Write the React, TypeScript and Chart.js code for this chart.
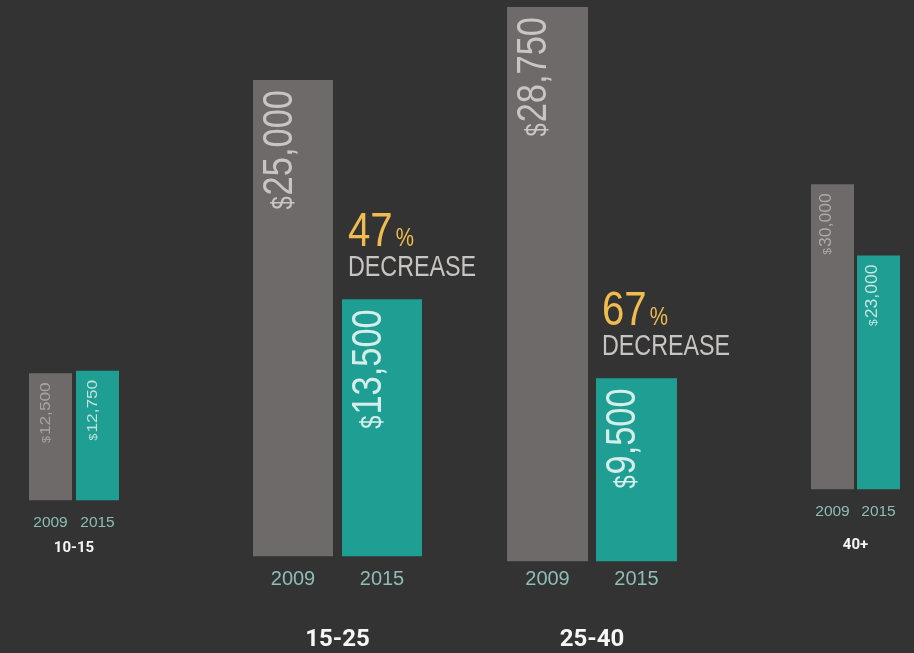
import { useEffect, useRef } from "react";
import { Chart, registerables } from "chart.js";

Chart.register(...registerables);

// ---------- data ----------
const years = ["2009", "2015"];
const ageGroups = ["10-15", "15-25", "25-40", "40+"];
const salary2009 = [12500, 25000, 28750, 30000];
const salary2015 = [12750, 13500, 9500, 23000];
const decreasePct = ["", "47", "67", ""];

// ---------- style ----------
const BG = "#333333";
const GRAY = "#6e6a69";
const TEAL = "#1f9e94";
const YEAR_COLOR = "#8dbdb6";
const TITLE_COLOR = "#f6f6f6";
const PCT_COLOR = "#f0bb4f";
const DEC_COLOR = "#c8c4c2";
const SANS = "'Liberation Sans', Arial, sans-serif";
const BOLD = "Roboto, 'Liberation Sans', sans-serif";

type GroupStyle = {
  left: number;
  width: number;
  height: number;
  padL: number;
  padR: number;
  yMax: number;
  barPct: number;
  tickSize: number;
  tickPad: number;
  titleSize: number;
  titlePadTop: number;
  valueSize: number;
  dollarSize: number;
  stretch: number;
  labelOffset: number;
  baseShift: number;
  grayLabel: string;
  tealLabel: string;
};

const groupStyles: GroupStyle[] = [
  {
    left: 15, width: 120, height: 557, padL: 12, padR: 14, yMax: 49213, barPct: 0.915,
    tickSize: 15.5, tickPad: 14, titleSize: 15, titlePadTop: -5,
    valueSize: 14, dollarSize: 10, stretch: 1.23, labelOffset: 9, baseShift: -0.5,
    grayLabel: "#a9a5a3", tealLabel: "#bfe3dd",
  },
  {
    left: 236, width: 264, height: 654, padL: 12.5, padR: 73.5, yMax: 29200, barPct: 0.899,
    tickSize: 20, tickPad: 13, titleSize: 24, titlePadTop: 22.6,
    valueSize: 42, dollarSize: 29, stretch: 0.82, labelOffset: 10, baseShift: -1,
    grayLabel: "#c9c5c3", tealLabel: "#d6eeea",
  },
  {
    left: 490, width: 260, height: 654, padL: 13, padR: 69, yMax: 29113, barPct: 0.91,
    tickSize: 20, tickPad: 8, titleSize: 24, titlePadTop: 27.6,
    valueSize: 42, dollarSize: 29, stretch: 0.82, labelOffset: 10, baseShift: -2,
    grayLabel: "#c9c5c3", tealLabel: "#d6eeea",
  },
  {
    left: 796, width: 118, height: 554, padL: 13.5, padR: 12.5, yMax: 48098, barPct: 0.935,
    tickSize: 15.5, tickPad: 14, titleSize: 15, titlePadTop: 3,
    valueSize: 16, dollarSize: 11, stretch: 1.1, labelOffset: 9, baseShift: -1.5,
    grayLabel: "#aeaaa8", tealLabel: "#c6e6e1",
  },
];

function drawValue(
  ctx: CanvasRenderingContext2D,
  x: number,
  top: number,
  value: number,
  st: GroupStyle,
  color: string
) {
  const digits = value.toLocaleString("en-US");
  ctx.save();
  ctx.translate(x + st.baseShift, top + st.labelOffset);
  ctx.rotate(-Math.PI / 2);
  ctx.scale(st.stretch, 1);
  ctx.fillStyle = color;
  ctx.textAlign = "right";
  ctx.textBaseline = "alphabetic";
  ctx.font = `${st.valueSize}px ${SANS}`;
  ctx.fillText(digits, 0, 0);
  const w = ctx.measureText(digits).width;
  ctx.font = `${st.dollarSize}px ${SANS}`;
  ctx.fillText("$", -w - 1, 0);
  ctx.restore();
}

function drawNarrow(
  ctx: CanvasRenderingContext2D,
  text: string,
  x: number,
  y: number,
  font: string,
  sx: number
): number {
  ctx.save();
  ctx.font = font;
  ctx.translate(x, y);
  ctx.scale(sx, 1);
  ctx.fillText(text, 0, 0);
  const w = ctx.measureText(text).width * sx;
  ctx.restore();
  return w;
}

function GroupChart({ index }: { index: number }) {
  const ref = useRef<HTMLCanvasElement | null>(null);
  const st = groupStyles[index];

  useEffect(() => {
    if (!ref.current) return;
    const labelPlugin = {
      id: "valueLabels" + index,
      afterDatasetsDraw(chart: any) {
        const ctx: CanvasRenderingContext2D = chart.ctx;
        const meta = chart.getDatasetMeta(0);
        const vals = chart.data.datasets[0].data as number[];
        meta.data.forEach((bar: any, j: number) => {
          drawValue(ctx, bar.x, bar.y, vals[j], st, j === 0 ? st.grayLabel : st.tealLabel);
        });
        const pct = decreasePct[index];
        if (pct) {
          const teal = meta.data[1];
          const x0 = teal.x - teal.width / 2 + 6;
          ctx.save();
          ctx.textAlign = "left";
          ctx.textBaseline = "alphabetic";
          ctx.fillStyle = PCT_COLOR;
          const pw = drawNarrow(ctx, pct, x0, teal.y - 53, `49px ${SANS}`, 0.82);
          drawNarrow(ctx, "%", x0 + pw + 3, teal.y - 53, `25px ${SANS}`, 0.82);
          ctx.fillStyle = DEC_COLOR;
          drawNarrow(ctx, "DECREASE", x0, teal.y - 23, `30px ${SANS}`, 0.776);
          ctx.restore();
        }
      },
    };

    const chart = new Chart(ref.current, {
      type: "bar",
      data: {
        labels: years,
        datasets: [
          {
            data: [salary2009[index], salary2015[index]],
            backgroundColor: [GRAY, TEAL],
            borderWidth: 0,
            barPercentage: st.barPct,
            categoryPercentage: 1,
          },
        ],
      },
      options: {
        animation: false,
        responsive: false,
        maintainAspectRatio: false,
        devicePixelRatio: 1,
        layout: { padding: { left: st.padL, right: st.padR, top: 0, bottom: 0 } },
        plugins: { legend: { display: false }, tooltip: { enabled: false } },
        scales: {
          x: {
            grid: { display: false, drawTicks: false },
            border: { display: false },
            ticks: {
              color: YEAR_COLOR,
              font: { family: SANS, size: st.tickSize, lineHeight: 1 },
              padding: st.tickPad,
              maxRotation: 0,
              minRotation: 0,
              autoSkip: false,
            },
            title: {
              display: true,
              text: ageGroups[index],
              color: TITLE_COLOR,
              font: { family: BOLD, size: st.titleSize, weight: "bold", lineHeight: 1.2 },
              padding: { top: st.titlePadTop, bottom: 0 },
            },
          },
          y: { display: false, min: 0, max: st.yMax },
        },
      },
      plugins: [labelPlugin],
    } as any);
    return () => chart.destroy();
  }, [index]);

  return (
    <canvas
      ref={ref}
      width={st.width}
      height={st.height}
      style={{
        position: "absolute",
        left: st.left,
        top: 0,
        width: st.width,
        height: st.height,
      }}
    />
  );
}

export default function App() {
  useEffect(() => {
    document.body.style.margin = "0";
    document.body.style.background = BG;
  }, []);
  return (
    <div
      style={{
        position: "absolute",
        left: 0,
        top: 0,
        width: 914,
        height: 653,
        background: BG,
        overflow: "hidden",
      }}
    >
      {ageGroups.map((_, i) => (
        <GroupChart key={i} index={i} />
      ))}
    </div>
  );
}
